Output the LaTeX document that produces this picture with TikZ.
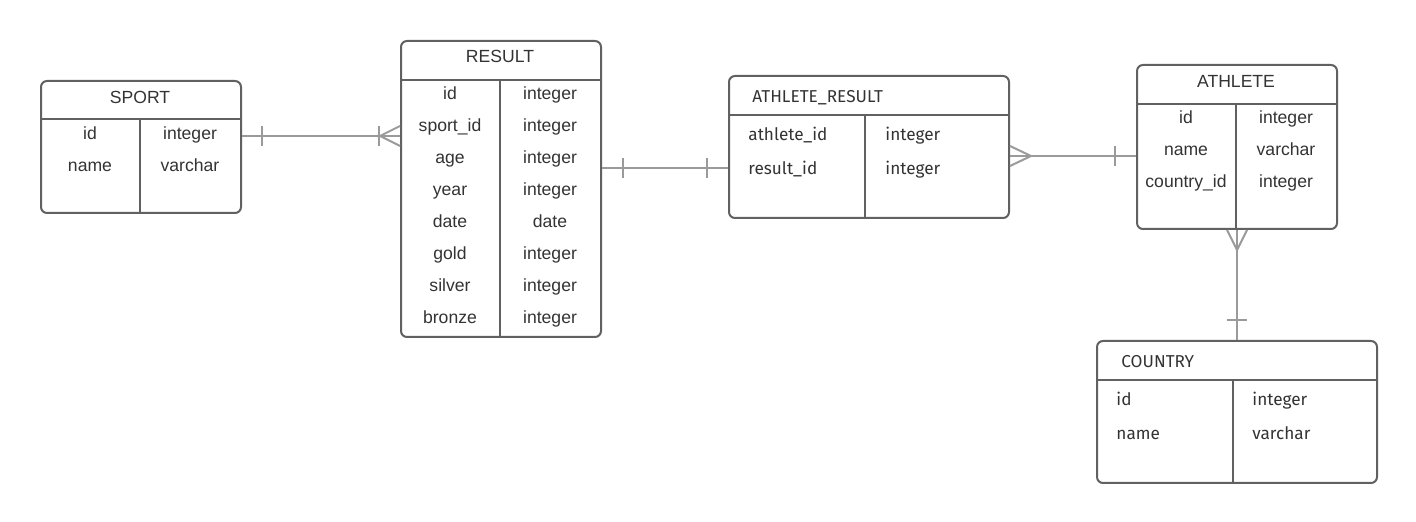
\documentclass[tikz,border=0pt]{standalone}
\usepackage{fontspec}
\usetikzlibrary{positioning, calc}
\newfontfamily\erarial{Liberation Sans}
\newfontfamily\erfira{Fira Sans}
\definecolor{boxline}{HTML}{616161}
\definecolor{relline}{HTML}{9A9A9A}
\definecolor{txt}{HTML}{333333}
\tikzset{
    % Tables
    tbl/.style = {draw=boxline, line width=1pt, rounded corners=3pt, anchor=north west, inner sep=0pt},
    inner/.style = {draw=boxline, line width=1pt},
    % Texts
    colA/.style = {font=\erarial\fontsize{8.8}{10}\selectfont, text=txt, anchor=base, inner sep=0pt},
    colB/.style = {font=\erfira\fontsize{8.6}{10}\selectfont, text=txt, anchor=base west, inner sep=0pt},
    % Relations
    rel/.style = {draw=relline, line width=1pt}
}
\begin{document}
\begin{tikzpicture}[x=0.5pt, y=-0.5pt]
    \useasboundingbox (0,0) rectangle (1416,522);

    % SPORT
    \node (sport) [tbl, minimum width=100pt, minimum height=66pt] at (40,80) {};
    \draw [inner] ($(sport.north west)+(0,39)$) -- ($(sport.north east)+(0,39)$);
    \draw [inner] ($(sport.north west)+(100,39)$) -- ($(sport.south west)+(100,0)$);
    \node (sport-title) [colA] at (140,104) {SPORT};
    \foreach \f/\t [count=\i] in {id/integer, name/varchar}
        \node (sport-f\i) [colA] at (90,108+32*\i) {\f}
            node (sport-t\i) [colA] at (190,108+32*\i) {\t};

    % RESULT
    \node (result) [tbl, minimum width=100pt, minimum height=148pt] at (400,40) {};
    \draw [inner] ($(result.north west)+(0,40)$) -- ($(result.north east)+(0,40)$);
    \draw [inner] ($(result.north west)+(100,40)$) -- ($(result.south west)+(100,0)$);
    \node (result-title) [colA] at (500,63) {RESULT};
    \foreach \f/\t [count=\i] in {id/integer, sport\_id/integer, age/integer, year/integer,
                                  date/date, gold/integer, silver/integer, bronze/integer}
        \node (result-f\i) [colA] at (450,68+32*\i) {\f}
            node (result-t\i) [colA] at (550,68+32*\i) {\t};

    % ATHLETE_RESULT
    \node (ar) [tbl, minimum width=140pt, minimum height=71pt] at (728,75) {};
    \draw [inner] ($(ar.north west)+(0,40)$) -- ($(ar.north east)+(0,40)$);
    \draw [inner] ($(ar.north west)+(137,40)$) -- ($(ar.south west)+(137,0)$);
    \node (ar-title) [colB] at (752,103) {ATHLETE\_RESULT};
    \foreach \f/\t [count=\i] in {athlete\_id/integer, result\_id/integer}
        \node (ar-f\i) [colB] at (748,106+34.5*\i) {\f}
            node (ar-t\i) [colB] at (885,106+34.5*\i) {\t};

    % ATHLETE
    \node (athlete) [tbl, minimum width=100pt, minimum height=82pt] at (1136,64) {};
    \draw [inner] ($(athlete.north west)+(0,40)$) -- ($(athlete.north east)+(0,40)$);
    \draw [inner] ($(athlete.north west)+(100,40)$) -- ($(athlete.south west)+(100,0)$);
    \node (athlete-title) [colA] at (1236,88) {ATHLETE};
    \foreach \f/\t [count=\i] in {id/integer, name/varchar, country\_id/integer}
        \node (athlete-f\i) [colA] at (1186,92+32*\i) {\f}
            node (athlete-t\i) [colA] at (1286,92+32*\i) {\t};

    % COUNTRY
    \node (country) [tbl, minimum width=140pt, minimum height=71pt] at (1096,340) {};
    \draw [inner] ($(country.north west)+(0,40)$) -- ($(country.north east)+(0,40)$);
    \draw [inner] ($(country.north west)+(137,40)$) -- ($(country.south west)+(137,0)$);
    \node (country-title) [colB] at (1121,368) {COUNTRY};
    \foreach \f/\t [count=\i] in {id/integer, name/varchar}
        \node (country-f\i) [colB] at (1116,371+34.5*\i) {\f}
            node (country-t\i) [colB] at (1252,371+34.5*\i) {\t};

    % SPORT -- RESULT (one to many)
    \coordinate (sr-a) at ($(sport.north east)+(0,56)$);
    \coordinate (sr-b) at (result.west |- sr-a);
    \draw [rel] (sr-a) -- (sr-b);
    \draw [rel] ($(sr-a)+(20,-10)$) -- ($(sr-a)+(20,10)$);
    \draw [rel] ($(sr-b)+(-21,-10)$) -- ($(sr-b)+(-21,10)$);
    \draw [rel] ($(sr-b)+(0,-10)$) -- ($(sr-b)+(-20,0)$) -- ($(sr-b)+(0,10)$);

    % RESULT -- ATHLETE_RESULT (one to one)
    \coordinate (ra-a) at ($(result.north east)+(0,128)$);
    \coordinate (ra-b) at (ar.west |- ra-a);
    \draw [rel] (ra-a) -- (ra-b);
    \draw [rel] ($(ra-a)+(21,-10)$) -- ($(ra-a)+(21,10)$);
    \draw [rel] ($(ra-b)+(-21,-10)$) -- ($(ra-b)+(-21,10)$);

    % ATHLETE_RESULT -- ATHLETE (many to one)
    \coordinate (aa-a) at ($(ar.north east)+(0,81)$);
    \coordinate (aa-b) at (athlete.west |- aa-a);
    \draw [rel] (aa-a) -- (aa-b);
    \draw [rel] ($(aa-a)+(0,-10)$) -- ($(aa-a)+(21,0)$) -- ($(aa-a)+(0,10)$);
    \draw [rel] ($(aa-b)+(-21,-10)$) -- ($(aa-b)+(-21,10)$);

    % ATHLETE -- COUNTRY (many to one)
    \coordinate (ac-a) at (athlete.south);
    \coordinate (ac-b) at (ac-a |- country.north);
    \draw [rel] (ac-a) -- (ac-b);
    \draw [rel] ($(ac-a)+(-10,0)$) -- ($(ac-a)+(0,20)$) -- ($(ac-a)+(10,0)$);
    \draw [rel] ($(ac-b)+(-10,-20)$) -- ($(ac-b)+(10,-20)$);
\end{tikzpicture}
\end{document}
